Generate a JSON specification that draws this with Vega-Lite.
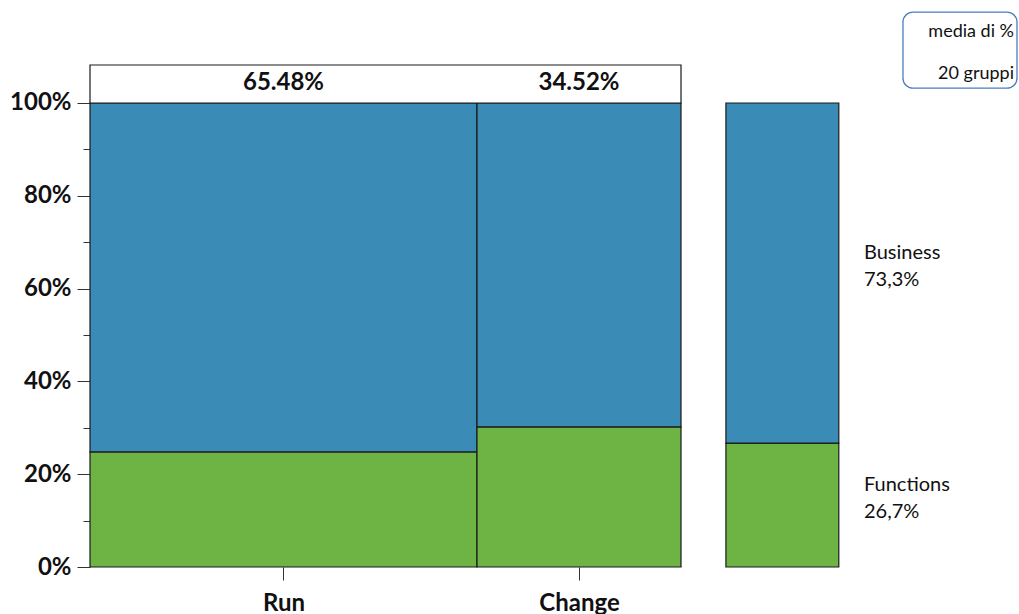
{
  "$schema": "https://vega.github.io/schema/vega-lite/v6.json",
  "width": 929,
  "height": 567,
  "autosize": {"type": "none"},
  "padding": {"left": 90, "top": 0, "right": 0, "bottom": 47},
  "background": "white",
  "config": {"view": {"stroke": null}, "font": "Lato"},
  "datasets": {
    "mix": [
      {"group": "Run", "groupShare": 65.48, "part": "Functions", "share": 24.8},
      {"group": "Run", "groupShare": 65.48, "part": "Business", "share": 75.2},
      {"group": "Change", "groupShare": 34.52, "part": "Functions", "share": 30.2},
      {"group": "Change", "groupShare": 34.52, "part": "Business", "share": 69.8}
    ],
    "media": [
      {"part": "Functions", "share": 26.7},
      {"part": "Business", "share": 73.3}
    ]
  },
  "layer": [
    {
      "data": {"name": "mix"},
      "transform": [
        {"stack": "groupShare", "groupby": ["part"], "sort": [{"field": "group", "order": "descending"}], "as": ["gx0", "gx1"]},
        {"stack": "share", "groupby": ["group"], "sort": [{"field": "part", "order": "descending"}], "as": ["y0", "y1"]}
      ],
      "mark": {"type": "rect", "stroke": "#1a1a1a", "strokeWidth": 1.2},
      "encoding": {
        "x": {
          "field": "gx0", "type": "quantitative", "title": null,
          "scale": {"domain": [0, 157.19], "nice": false, "zero": false},
          "axis": {
            "values": [32.74, 82.74],
            "labelExpr": "datum.value < 50 ? 'Run' : 'Change'",
            "domain": false, "grid": false,
            "tickSize": 13, "tickColor": "#333", "tickWidth": 1,
            "labelFont": "Lato", "labelFontSize": 24, "labelFontWeight": "bold",
            "labelColor": "#111", "labelPadding": 11,
            "labelFlush": false, "labelOverlap": false
          }
        },
        "x2": {"field": "gx1"},
        "y": {
          "field": "y0", "type": "quantitative", "title": null,
          "scale": {"domain": [0, 122.198], "nice": false},
          "axis": {
            "values": [0, 5, 10, 15, 20, 25, 30, 35, 40, 45, 50, 55, 60, 65, 70, 75, 80, 85, 90, 95, 100],
            "labelExpr": "datum.value % 20 === 0 ? datum.value + '%' : ''",
            "domain": false, "grid": false,
            "tickSize": {"condition": {"test": "datum.value % 20 === 0", "value": 13}, "value": 7},
            "tickColor": "#333", "tickWidth": 1,
            "labelFont": "Lato", "labelFontSize": 24, "labelFontWeight": "bold",
            "labelColor": "#111", "labelPadding": 6, "labelOverlap": false
          }
        },
        "y2": {"field": "y1"},
        "color": {
          "field": "part", "type": "nominal", "legend": null,
          "scale": {"domain": ["Business", "Functions"], "range": ["#3a8bb5", "#6eb444"]}
        }
      }
    },
    {
      "data": {"values": [{}]},
      "mark": {"type": "rect", "fill": "white", "stroke": "#1a1a1a", "strokeWidth": 1.2},
      "encoding": {
        "x": {"datum": 0, "type": "quantitative", "title": null},
        "x2": {"datum": 100},
        "y": {"datum": 100, "type": "quantitative", "title": null},
        "y2": {"datum": 108.19}
      }
    },
    {
      "data": {"name": "mix"},
      "transform": [
        {"stack": "groupShare", "groupby": ["part"], "sort": [{"field": "group", "order": "descending"}], "as": ["gx0", "gx1"]},
        {"filter": "datum.part === 'Functions'"},
        {"calculate": "(datum.gx0 + datum.gx1) / 2", "as": "xm"},
        {"calculate": "format(datum.groupShare, '.2f') + '%'", "as": "lbl"}
      ],
      "mark": {"type": "text", "font": "Lato", "fontSize": 24, "fontWeight": "bold", "color": "#111", "baseline": "middle", "align": "center"},
      "encoding": {
        "x": {"field": "xm", "type": "quantitative", "title": null},
        "y": {"datum": 104.3, "type": "quantitative", "title": null},
        "text": {"field": "lbl"}
      }
    },
    {
      "data": {"name": "media"},
      "transform": [
        {"stack": "share", "groupby": [], "sort": [{"field": "part", "order": "descending"}], "as": ["m0", "m1"]}
      ],
      "mark": {"type": "rect", "stroke": "#1a1a1a", "strokeWidth": 1.2},
      "encoding": {
        "x": {"datum": 107.6, "type": "quantitative", "title": null},
        "x2": {"datum": 126.7},
        "y": {"field": "m0", "type": "quantitative", "title": null},
        "y2": {"field": "m1"},
        "color": {"field": "part", "type": "nominal", "legend": null}
      }
    },
    {
      "data": {"name": "media"},
      "transform": [
        {"stack": "share", "groupby": [], "sort": [{"field": "part", "order": "descending"}], "as": ["m0", "m1"]},
        {"calculate": "(datum.m0 + datum.m1) / 2", "as": "mid"},
        {"calculate": "[datum.part, replace(format(datum.share, '.1f'), '.', ',') + '%']", "as": "lbl"}
      ],
      "mark": {"type": "text", "font": "Lato", "fontSize": 20, "color": "#111", "align": "left", "baseline": "middle", "lineHeight": 27, "dy": -20},
      "encoding": {
        "x": {"datum": 130.96, "type": "quantitative", "title": null},
        "y": {"field": "mid", "type": "quantitative", "title": null},
        "text": {"field": "lbl"}
      }
    },
    {
      "data": {"values": [{}]},
      "mark": {"type": "rect", "fill": "white", "stroke": "#4a7ebb", "strokeWidth": 1.3, "cornerRadius": 10},
      "encoding": {
        "x": {"datum": 137.56, "type": "quantitative", "title": null},
        "x2": {"datum": 156.85},
        "y": {"datum": 103.2, "type": "quantitative", "title": null},
        "y2": {"datum": 119.6}
      }
    },
    {
      "data": {"values": [{}]},
      "mark": {"type": "text", "font": "Lato", "fontSize": 18, "color": "#111", "align": "right", "baseline": "middle", "lineHeight": 42},
      "encoding": {
        "x": {"datum": 156.35, "type": "quantitative", "title": null},
        "y": {"datum": 115.3, "type": "quantitative", "title": null},
        "text": {"value": ["media di %", "20 gruppi"]}
      }
    }
  ]
}
